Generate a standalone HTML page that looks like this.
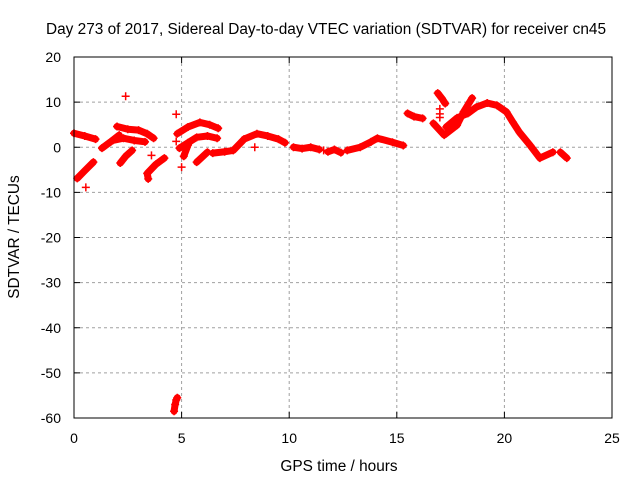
<!DOCTYPE html>
<html><head><meta charset="utf-8"><style>
html,body{margin:0;padding:0;background:#fff}
svg{display:block;font-family:"Liberation Sans",sans-serif}
</style></head><body>
<svg id="chart" width="640" height="480">
<text x="326" y="34" font-size="15.4" text-anchor="middle">Day 273 of 2017, Sidereal Day-to-day VTEC variation (SDTVAR) for receiver cn45</text>
<text x="339" y="471" font-size="15.4" text-anchor="middle">GPS time / hours</text>
<text x="0" y="0" font-size="15.4" text-anchor="middle" transform="translate(19,237) rotate(-90)">SDTVAR / TECUs</text>
<g id="grid"></g><g id="marks"></g>
<rect x="74" y="57" width="538" height="361" fill="none" stroke="#000" stroke-width="1"/>
</svg>
<script>
const xTicks=[0,5,10,15,20,25];
const yTicks=[20,10,0,-10,-20,-30,-40,-50,-60];
const tracks=[
[[0,3.1],[0.5,2.5],[1.0,1.8]],
[[0.15,-6.9],[0.5,-5.2],[0.9,-3.3]],
[[1.3,-0.2],[1.7,1.2],[2.1,2.7]],
[[2.0,4.6],[2.5,4.0],[3.0,3.8],[3.4,3.0],[3.7,2.0]],
[[1.8,1.5],[2.3,2.0],[2.8,1.5],[3.3,1.2]],
[[2.15,-3.5],[2.4,-2.0],[2.7,-0.7]],
[[3.45,-7.0],[3.4,-5.8],[3.8,-3.8],[4.2,-2.4]],
[[4.8,3.0],[5.3,4.5],[5.85,5.5],[6.3,5.0],[6.7,4.2]],
[[4.9,-0.2],[5.3,1.0],[5.7,2.2],[6.2,2.5],[6.65,2.0]],
[[5.1,-2.0],[5.3,0.5]],
[[5.7,-3.3],[6.2,-1.1]],
[[6.45,-1.3],[7.0,-1.0],[7.4,-0.7],[7.85,1.5]],
[[7.9,1.8],[8.5,3.0],[9.0,2.5],[9.5,1.8],[9.8,1.0]],
[[10.2,0.0],[10.6,-0.3],[11.0,0.0],[11.4,-0.5]],
[[11.8,-1.0],[12.1,-0.5],[12.4,-1.2]],
[[12.7,-0.7],[13.3,0.0],[13.8,1.2],[14.1,2.0],[14.8,1.1],[15.3,0.4]],
[[15.5,7.5],[15.8,6.8],[16.2,6.4]],
[[16.9,12.0],[17.1,10.8],[17.25,9.7]],
[[16.7,5.3],[17.2,2.7],[17.8,4.9],[18.1,7.8],[18.5,10.9]],
[[17.3,4.5],[17.8,6.5],[18.3,7.5],[18.7,8.9],[19.2,9.8],[19.65,9.3],[20.1,7.8],[20.4,5.5],[20.7,3.3],[21.2,0.4],[21.65,-2.4],[22.25,-1.1]],
[[22.6,-1.1],[22.9,-2.4]],
[[4.65,-58.5],[4.7,-57],[4.75,-56],[4.8,-55.5]]
];
const singles=[[2.4,11.3],[4.75,7.3],[3.6,-1.8],[5.0,-4.4],[4.75,1.3],[0.55,-8.9],[8.4,0.0],[11.6,-0.7],[17.0,8.5],[17.0,7.4],[17.0,6.6]];
const X=h=>74+h*538/25, Y=v=>57+(20-v)*361/80;
const ns="http://www.w3.org/2000/svg";
const g=document.getElementById('grid'), m=document.getElementById('marks');
function mk(tag,attrs,parent){const e=document.createElementNS(ns,tag);for(const k in attrs)e.setAttribute(k,attrs[k]);parent.appendChild(e);return e;}
xTicks.forEach(t=>{
 if(t>0&&t<25){const l=mk('line',{x1:X(t),x2:X(t),y1:57,y2:418,stroke:'#a0a0a0','stroke-dasharray':'3,3'},g);
 
 }
 mk('line',{x1:X(t),x2:X(t),y1:418,y2:412,stroke:'#000'},g);
 mk('line',{x1:X(t),x2:X(t),y1:57,y2:63,stroke:'#000'},g);
 const tx=mk('text',{x:X(t),y:443,'font-size':14,'text-anchor':'middle'},g);tx.textContent=t;
 
 
});
yTicks.forEach(t=>{
 if(t<20&&t>-60){const l=mk('line',{x1:74,x2:612,y1:Y(t),y2:Y(t),stroke:'#a0a0a0','stroke-dasharray':'3,3'},g);
 
 }
 mk('line',{x1:74,x2:80,y1:Y(t),y2:Y(t),stroke:'#000'},g);
 mk('line',{x1:612,x2:606,y1:Y(t),y2:Y(t),stroke:'#000'},g);
 const tx=mk('text',{x:61,y:Y(t)+5,'font-size':14,'text-anchor':'end'},g);tx.textContent=t;
 
 
});
function plus(h,v){const x=X(h),y=Y(v);
 const p=mk('path',{d:`M${x-4},${y}H${x+4}M${x},${y-4}V${y+4}`,stroke:'#f00','stroke-width':1.5,fill:'none'},m);
 
 }
tracks.forEach(tr=>{
 const pl=mk('polyline',{points:tr.map(p=>X(p[0])+','+Y(p[1])).join(' '),stroke:'#f00','stroke-width':7,fill:'none','stroke-linejoin':'round','stroke-linecap':'round'},m);
 
 
 tr.forEach(p=>plus(p[0],p[1]));
});
singles.forEach(p=>plus(p[0],p[1]));
</script>
</body></html>
